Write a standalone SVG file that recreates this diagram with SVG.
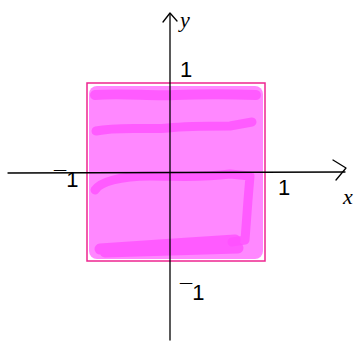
<svg xmlns="http://www.w3.org/2000/svg" width="363" height="347" viewBox="0 0 363 347">
<style>
.ax{stroke:#000;stroke-width:1.3;fill:none;stroke-linecap:round;stroke-linejoin:round}
.lbl{font-family:"Liberation Sans",sans-serif;font-size:22px;fill:#000}
.it{font-family:"Liberation Serif",serif;font-style:italic;font-size:22px;fill:#000}
.dk{stroke:#ff50ff;fill:none;stroke-linecap:round;stroke-linejoin:round;opacity:0.8}
</style>
<rect width="363" height="347" fill="#fff"/>
<g id="region">
<rect x="89" y="86" width="174" height="173" rx="8" fill="#ff88ff"/>
<path class="dk" stroke-width="10" d="M95,95 C120,93 150,96 175,95 S230,94 256,95"/>
<path class="dk" stroke-width="9" d="M96,131 C120,126 150,130 168,128 S210,126 230,126 L252,122"/>
<path class="dk" stroke-width="9" d="M95,190 C100,182 120,176 150,176 S200,178 230,174 L250,176 L248,200 L245,240 L232,242"/>
<path class="dk" stroke-width="11" d="M100,249 C140,246 190,243 235,240 M105,252 L238,248"/>
<rect x="87" y="83" width="178" height="178" fill="none" stroke="#ee2590" stroke-width="1.5"/>
</g>
<g id="connectors">
<path class="ax" d="M8,173 L345,172"/>
<path class="ax" d="M333,160 L346,168 L336,180"/>
<path class="ax" d="M170,340 L170,14"/>
<path class="ax" d="M163,22 L170,13 L177,21"/>
</g>
<g id="labels">
<text class="it" x="180" y="27">y</text>
<text class="lbl" x="180" y="77">1</text>
<text class="lbl" x="278" y="195">1</text>
<text class="it" x="343" y="204">x</text>
<text class="lbl" x="54" y="187">¯1</text>
<text class="lbl" x="180" y="300">¯1</text>
</g>
</svg>
